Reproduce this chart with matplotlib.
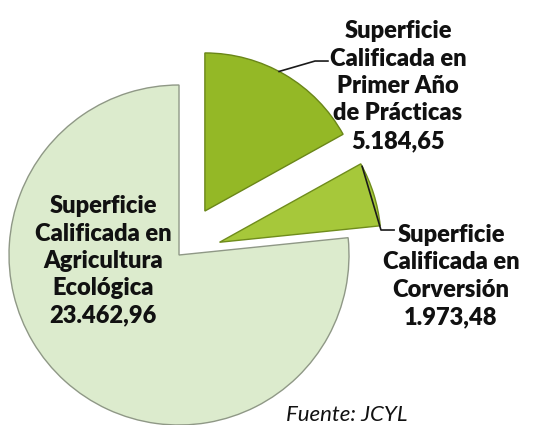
import numpy as np
import matplotlib.pyplot as plt

# superficies (ha), orden de dibujo desde las 12 en sentido antihorario
labels = ['Superficie\nCalificada en\nAgricultura\nEcológica\n23.462,96',
          'Superficie\nCalificada en\nCorversión\n1.973,48',
          'Superficie\nCalificada en\nPrimer Año\nde Prácticas\n5.184,65']
values = [23462.96, 1973.48, 5184.65]
colors = ['#dcebcd', '#a6c83a', '#94b826']
edges = ['#8f9886', '#6f8c1c', '#6a8618']
explode = [0, 0.25, 0.30]

fig = plt.figure(figsize=(5.44, 4.25), dpi=100)
ax = fig.add_axes([0, 0, 1, 1])

wedges, _ = ax.pie(values, startangle=90, counterclock=True, explode=explode,
                   colors=colors, radius=1,
                   wedgeprops=dict(linewidth=1.0))
for w, ec in zip(wedges, edges):
    w.set_edgecolor(ec)
# las porciones separadas son algo mas pequeñas
wedges[1].set_radius(0.95)
wedges[2].set_radius(0.93)

ax.set_xlim(-1.053, 2.147)
ax.set_ylim(-1.0, 1.5)
ax.set_aspect('equal')
ax.axis('off')

font = 'Lato'

# etiqueta grande dentro de la porcion
ax.text(-0.447, -0.035, labels[0], ha='center', va='center', fontsize=17,
        fontweight='heavy', family=font, linespacing=1.3, color='#111111')

# etiquetas exteriores con linea guia
def leader(w, ang, elbow, end):
    cx, cy = w.center
    r = w.r
    sx = cx + r * np.cos(np.radians(ang))
    sy = cy + r * np.sin(np.radians(ang))
    ax.plot([sx, elbow[0], end[0]], [sy, elbow[1], end[1]], color='#1a1a1a', lw=1.2)

leader(wedges[2], 62, (0.80, 1.141), (0.876, 1.141))
leader(wedges[1], 28, (1.188, 0.147), (1.265, 0.147))

ax.text(1.288, 0.994, labels[2], ha='center', va='center', fontsize=17,
        fontweight='heavy', family=font, linespacing=1.3, color='#111111')
ax.text(1.60, -0.124, labels[1], ha='center', va='center', fontsize=17,
        fontweight='heavy', family=font, linespacing=1.3, color='#111111')

ax.text(0.988, -0.94, 'Fuente: JCYL', ha='center', va='center', fontsize=16,
        style='italic', family=font, color='#111111')

fig.savefig('out.png', dpi=100)
